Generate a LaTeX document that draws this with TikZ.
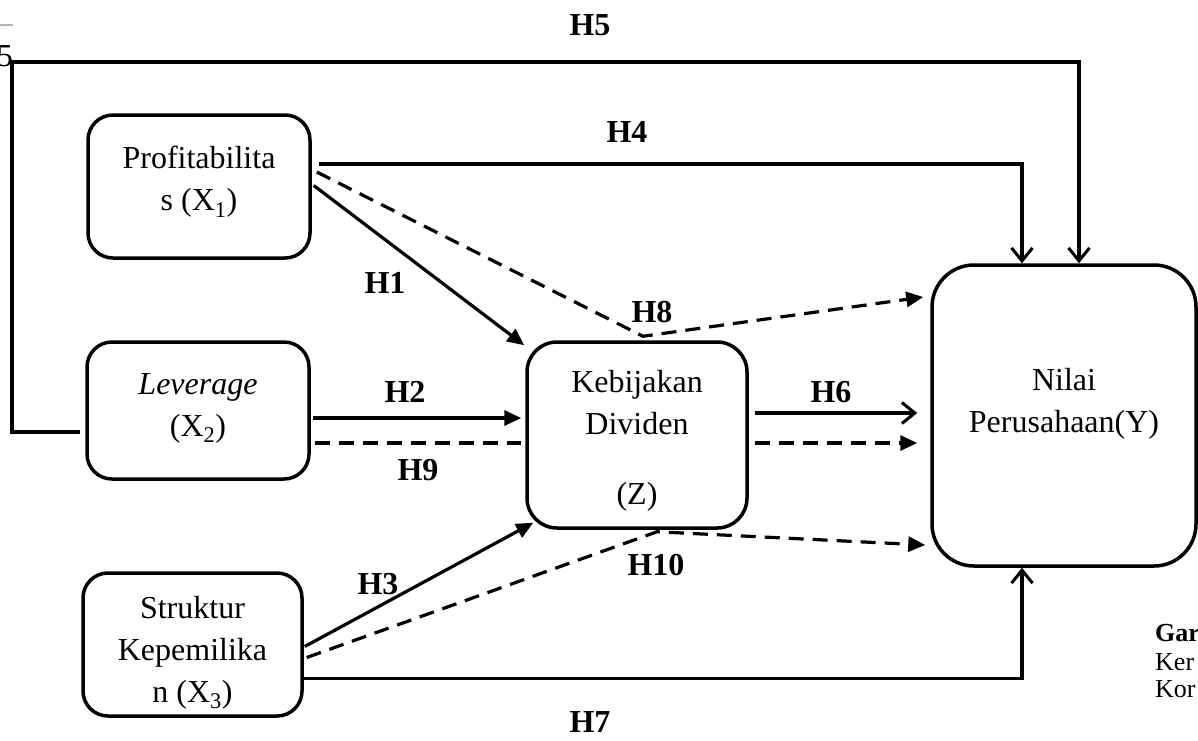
\documentclass[tikz,border=0pt]{standalone}
\usepackage{fontspec}
\setmainfont{Liberation Serif}
\usetikzlibrary{arrows.meta,calc}
\begin{document}
\begin{tikzpicture}[x=1pt,y=-1pt,
  box/.style={draw,line width=3.5pt,rounded corners=#1,inner sep=0pt},
  box/.default=25pt,
  txt/.style={align=center,inner sep=0pt,font=\fontsize{32}{42}\selectfont},
  lbl/.style={inner sep=0pt,font=\fontsize{32}{36}\selectfont\bfseries},
  conn/.style={line width=3.2pt},
  dsh/.style={conn,dash pattern=on 15pt off 9pt},
  barb/.style={-{Straight Barb[length=13pt,width=21pt,line width=3pt]}},
  tri/.style={-{Triangle[length=17pt,width=15pt]}},
  side/.style={anchor=west,inner sep=0pt,font=\fontsize{26}{30}\selectfont}
]
\useasboundingbox (0,0) rectangle (1198,740);

% boxes
\node[box,minimum width=222pt,minimum height=143pt] (P) at (199,186.5) {};
\node[box,minimum width=222pt,minimum height=137pt] (L) at (198,410.5) {};
\node[box,minimum width=219pt,minimum height=143pt] (S) at (192.5,644.5) {};
\node[box=30pt,minimum width=220pt,minimum height=186pt] (K) at (637,435) {};
\node[box=42pt,minimum width=264pt,minimum height=301pt] (N) at (1064,415.5) {};

% box texts
\node[txt] (Pt) at (199,182) {Profitabilita\\s (X\textsubscript{1})};
\node[txt] (Lt) at (198,408) {\textit{Leverage}\\(X\textsubscript{2})};
\node[txt] (St) at (192.5,653) {Struktur\\Kepemilika\\n (X\textsubscript{3})};
\node[txt] (Kt) at (637,441) {Kebijakan\\Dividen\\[28pt](Z)};
\node[txt] (Nt) at (1064,404) {Nilai\\Perusahaan(Y)};

% corner coordinate for H5
\coordinate (c5) at (12,62);

% H4
\draw[conn,barb] ($(P.east)+(7,-22.5)$) -| ($(N.north)+(-42,0)$);
% H5
\draw[conn,barb] ($(L.west)+(-5,21.5)$) -| (c5) -| ($(N.north)+(15,0)$);
% H1
\draw[conn,tri] ($(P.east)+(2,-1)$) -- ($(K.north west)+(-1,5)$);
% H8
\draw[dsh,tri] ($(P.east)+(5,-14.5)$) -- ($(K.north)+(6,-4)$) -- ($(N.west)+(-7,-118.5)$);
% H2
\draw[conn,tri] ($(L.east)+(2,7.5)$) -- ($(K.west)+(-4,-17)$);
% H9
\draw[dsh] ($(L.east)+(4,32.5)$) -- ($(K.west)+(-4,8)$);
% H6
\draw[conn,barb] ($(K.east)+(6,-22)$) -- ($(N.west)+(-13,-2.5)$);
\draw[dsh,tri] ($(K.east)+(6,8)$) -- ($(N.west)+(-13,27.5)$);
% H3
\draw[conn,tri] ($(S.east)+(1,2)$) -- ($(K.south west)+(8,-7)$);
% H10
\draw[dsh,tri] ($(S.east)+(3,13)$) -- ($(K.south)+(20,2)$) -- ($(N.west)+(-5,129.5)$);
% H7
\draw[conn,barb] ($(S.east)+(-3,34)$) -| ($(N.south)+(-42,0)$);

% labels
\node[lbl] (h5) at (590,25) {H5};
\node[lbl] (h4) at (627,132) {H4};
\node[lbl] (h1) at (385,283) {H1};
\node[lbl] (h8) at (652,312) {H8};
\node[lbl] (h2) at (405,392) {H2};
\node[lbl] (h6) at (831,392) {H6};
\node[lbl] (h9) at (418,470) {H9};
\node[lbl] (h3) at (378,584) {H3};
\node[lbl] (h10) at (656,565) {H10};
\node[lbl] (h7) at (590,722) {H7};

% clipped fragments at the edges
\node[anchor=base east,inner sep=0pt,font=\fontsize{32}{36}\selectfont] (five) at (13,66) {5};
\draw[gray!60,line width=1.5pt] (0,25) -- (13,25);
\node[side,font=\fontsize{26}{30}\selectfont\bfseries] (g1) at (1155,633) {Gar};
\node[side] (g2) at (1155,662) {Ker};
\node[side] (g3) at (1155,689) {Kor};
\end{tikzpicture}
\end{document}
